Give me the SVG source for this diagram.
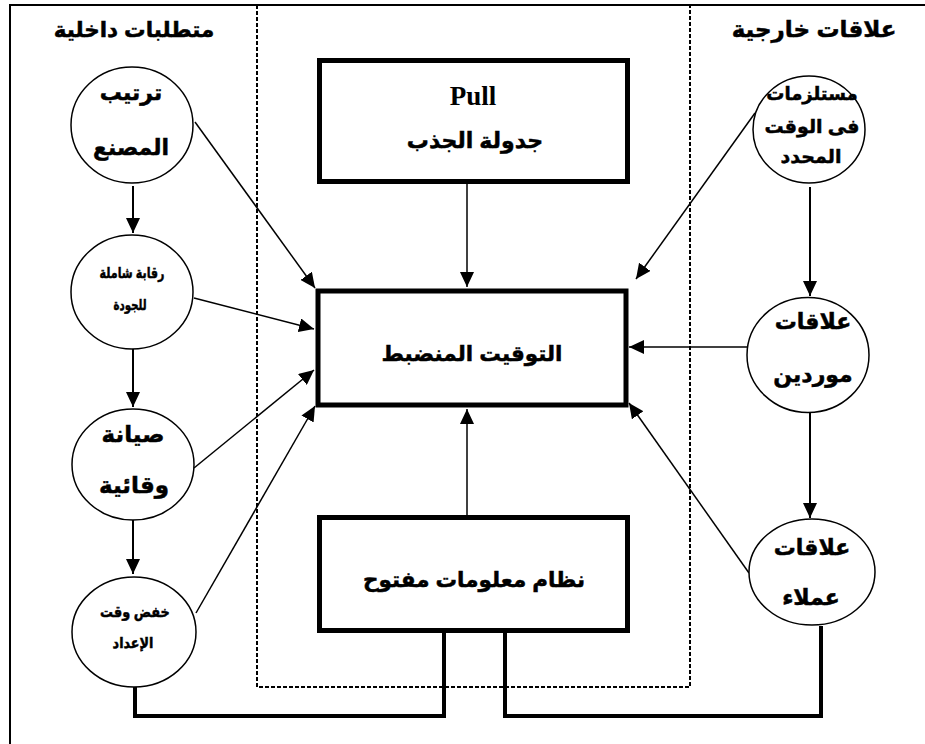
<svg xmlns="http://www.w3.org/2000/svg" width="925" height="744" viewBox="0 0 925 744">
<defs>
<marker id="ah" viewBox="0 0 15 14" refX="15" refY="7" markerWidth="15" markerHeight="14" markerUnits="userSpaceOnUse" orient="auto">
<path d="M0,0 L15,7 L0,14 z" fill="#000"/>
</marker>
</defs>
<style>
.frame{fill:none;stroke:#000;stroke-width:2}
.dash{fill:none;stroke:#000;stroke-width:2;stroke-dasharray:4 2}
.c{stroke:#000;stroke-width:1.5;fill:none}
.cv{stroke:#000;stroke-width:2;fill:none}
.br{stroke:#000;stroke-width:4;fill:none}
.box{fill:#fff;stroke:#000;stroke-width:5}
.el{fill:#fff;stroke:#000;stroke-width:1.5}
.t{font-family:"Liberation Sans","DejaVu Sans",sans-serif;font-weight:bold;text-anchor:middle;fill:#000;stroke:#000;stroke-width:0.5}
.s{font-family:"Liberation Serif","DejaVu Serif",serif;font-weight:bold;text-anchor:middle;fill:#000}
</style>
<rect width="925" height="744" fill="#fff"/>
<path class="frame" d="M10,744 V5 H925"/>
<path class="dash" d="M257,5 V687 H690 V5"/>

<g id="hdr-internal"><text class="t" x="134" y="37" font-size="21.5">متطلبات داخلية</text></g>
<g id="hdr-external"><text class="t" x="814" y="37" font-size="23">علاقات خارجية</text></g>

<g id="connectors">
<line class="cv" x1="133" y1="186" x2="133" y2="233" marker-end="url(#ah)"/>
<line class="cv" x1="133" y1="349" x2="133" y2="407" marker-end="url(#ah)"/>
<line class="cv" x1="133" y1="520" x2="133" y2="574" marker-end="url(#ah)"/>
<line class="cv" x1="810" y1="187" x2="810" y2="296" marker-end="url(#ah)"/>
<line class="cv" x1="810" y1="413" x2="810" y2="518" marker-end="url(#ah)"/>
<line class="c" x1="467" y1="183" x2="467" y2="287" marker-end="url(#ah)"/>
<line class="c" x1="467" y1="515" x2="467" y2="409" marker-end="url(#ah)"/>
<line class="c" x1="195" y1="122" x2="315" y2="288" marker-end="url(#ah)"/>
<line class="c" x1="194" y1="298" x2="314" y2="329" marker-end="url(#ah)"/>
<line class="c" x1="194" y1="468" x2="314" y2="370" marker-end="url(#ah)"/>
<line class="c" x1="196" y1="613" x2="315" y2="406" marker-end="url(#ah)"/>
<line class="c" x1="755" y1="113" x2="636" y2="279" marker-end="url(#ah)"/>
<line class="c" x1="748" y1="347" x2="629" y2="347" marker-end="url(#ah)"/>
<line class="c" x1="749" y1="573" x2="629" y2="403" marker-end="url(#ah)"/>
<path class="br" d="M135,687 V716 H444 V633"/>
<path class="br" d="M505,633 V716 H821 V626"/>
</g>

<g id="pull">
<rect class="box" x="319.5" y="60.5" width="308" height="121"/>
<text class="s" x="473" y="105" font-size="27">Pull</text>
<text class="t" x="475" y="148" font-size="22">جدولة الجذب</text>
</g>
<g id="jit">
<rect class="box" x="318" y="291" width="308" height="114"/>
<text class="t" x="472" y="361" font-size="21.5">التوقيت المنضبط</text>
</g>
<g id="info">
<rect class="box" x="319.5" y="517.5" width="308" height="113"/>
<text class="t" x="474" y="587" font-size="21.5">نظام معلومات مفتوح</text>
</g>

<g id="n-plant">
<ellipse class="el" cx="132" cy="125" rx="61" ry="58"/>
<text class="t" x="131" y="100" font-size="22">ترتيب</text>
<text class="t" x="131" y="155" font-size="22">المصنع</text>
</g>
<g id="n-tqc">
<ellipse class="el" cx="132" cy="292" rx="61" ry="57"/>
<text class="t" transform="translate(132,278) scale(0.74,1)" font-size="15">رقابة شاملة</text>
<text class="t" transform="translate(130,310) scale(0.68,1)" font-size="15">للجودة</text>
</g>
<g id="n-maint">
<ellipse class="el" cx="133" cy="464.5" rx="61" ry="55.5"/>
<text class="t" x="133" y="442" font-size="23">صيانة</text>
<text class="t" x="134" y="493" font-size="23">وقائية</text>
</g>
<g id="n-setup">
<ellipse class="el" cx="134" cy="632" rx="62" ry="55"/>
<text class="t" transform="translate(135,617) scale(0.86,1)" font-size="15">خفض وقت</text>
<text class="t" transform="translate(133,648) scale(0.85,1)" font-size="15">الإعداد</text>
</g>
<g id="n-supplies">
<ellipse class="el" cx="809" cy="129.5" rx="56" ry="53.5"/>
<text class="t" x="812" y="100" font-size="18">مستلزمات</text>
<text class="t" x="812" y="133" font-size="19">فى الوقت</text>
<text class="t" x="811" y="163" font-size="19">المحدد</text>
</g>
<g id="n-suppliers">
<ellipse class="el" cx="808" cy="355" rx="61" ry="57.5"/>
<text class="t" x="813" y="329" font-size="22">علاقات</text>
<text class="t" x="813" y="382" font-size="22">موردين</text>
</g>
<g id="n-customers">
<ellipse class="el" cx="812" cy="572" rx="63" ry="53"/>
<text class="t" x="812" y="555" font-size="22">علاقات</text>
<text class="t" x="811" y="605" font-size="22">عملاء</text>
</g>
</svg>
